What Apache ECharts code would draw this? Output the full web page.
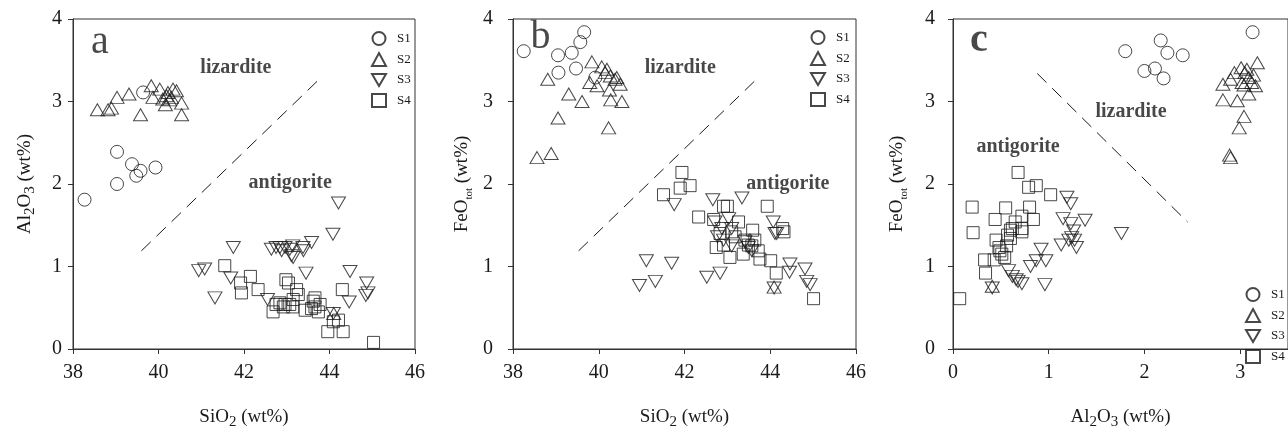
<!DOCTYPE html>
<html>
<head>
<meta charset="utf-8">
<title>serpentine</title>
<script src="https://cdn.jsdelivr.net/npm/echarts@6/dist/echarts.min.js"></script>
<style>
  html, body { margin: 0; padding: 0; background: #fff; }
  #chart { width: 1288px; height: 435px; }
</style>
</head>
<body>
<div id="chart"></div>
<script>
// panel a : SiO2 vs Al2O3
const aS1 = [[38.27,1.81],[39.03,2.0],[39.03,2.39],[39.38,2.24],[39.48,2.1],[39.58,2.16],[39.93,2.2],[39.64,3.11]];
const aS2 = [[38.57,2.9],[38.82,2.9],[38.9,2.92],[39.03,3.05],[39.31,3.09],[39.58,2.84],[39.83,3.19],[39.87,3.05],[40.03,3.15],[40.1,3.03],[40.19,3.07],[40.22,3.11],[40.16,2.96],[40.3,3.05],[40.34,3.15],[40.42,3.13],[40.54,2.98],[40.54,2.84],[40.26,3.02],[44.1,0.43]];
const aS3 = [[40.94,0.95],[41.08,0.97],[41.32,0.62],[41.75,1.23],[41.69,0.86],[42.55,0.6],[42.64,1.21],[42.75,1.23],[42.84,1.23],[42.88,1.19],[42.96,1.23],[43.07,1.21],[43.14,1.25],[43.11,1.13],[43.15,1.11],[43.38,1.23],[43.39,1.19],[43.58,1.29],[43.45,0.92],[44.08,1.39],[44.21,1.77],[44.48,0.94],[44.46,0.57],[44.87,0.8],[44.9,0.68],[44.85,0.65],[44.09,0.43]];
const aS4 = [[41.55,1.01],[41.92,0.8],[41.94,0.68],[42.15,0.88],[42.33,0.72],[42.68,0.45],[42.75,0.54],[42.84,0.56],[42.92,0.51],[42.96,0.54],[42.98,0.84],[43.04,0.8],[43.07,0.54],[43.14,0.51],[43.15,0.6],[43.23,0.72],[43.27,0.66],[43.43,0.47],[43.58,0.49],[43.62,0.58],[43.66,0.51],[43.66,0.62],[43.74,0.45],[43.78,0.54],[43.96,0.21],[44.09,0.33],[44.21,0.35],[44.32,0.21],[44.3,0.72],[45.03,0.08]];

// panel b : SiO2 vs FeOtot
const bS1 = [[38.25,3.61],[39.05,3.56],[39.06,3.35],[39.37,3.59],[39.47,3.4],[39.57,3.72],[39.66,3.84],[39.92,3.29]];
const bS2 = [[38.56,2.32],[38.89,2.37],[38.81,3.27],[39.05,2.8],[39.3,3.09],[39.61,3.0],[39.84,3.48],[39.79,3.23],[39.96,3.19],[40.07,3.42],[40.15,3.35],[40.19,3.39],[40.27,3.31],[40.38,3.27],[40.42,3.29],[40.5,3.21],[40.25,3.14],[40.28,3.02],[40.54,3.0],[40.23,2.68],[44.09,0.75]];
const bS3 = [[40.95,0.77],[41.11,1.07],[41.32,0.82],[41.7,1.04],[41.76,1.75],[42.52,0.87],[42.66,1.81],[42.71,1.54],[42.83,0.92],[42.77,1.36],[42.87,1.46],[42.91,1.32],[43.03,1.58],[43.1,1.46],[43.1,1.25],[43.34,1.83],[43.41,1.3],[43.49,1.23],[43.57,1.19],[44.07,1.54],[44.11,1.4],[44.15,1.4],[44.46,1.03],[44.45,0.93],[44.81,0.97],[44.85,0.82],[44.93,0.78],[44.09,0.74]];
const bS4 = [[41.51,1.87],[41.9,1.95],[41.94,2.14],[42.13,1.98],[42.33,1.6],[42.68,1.57],[42.74,1.23],[42.83,1.4],[42.91,1.73],[43.0,1.73],[42.91,1.26],[43.06,1.11],[43.1,1.42],[43.18,1.36],[43.26,1.54],[43.37,1.15],[43.41,1.32],[43.49,1.26],[43.57,1.25],[43.59,1.44],[43.64,1.32],[43.72,1.19],[43.76,1.09],[43.93,1.73],[44.01,1.07],[44.14,0.92],[44.29,1.46],[44.32,1.42],[45.01,0.61]];

// panel c : Al2O3 vs FeOtot
const cS1 = [[1.8,3.61],[2.0,3.37],[2.11,3.4],[2.2,3.28],[2.17,3.74],[2.24,3.59],[2.4,3.56],[3.13,3.84]];
const cS2 = [[2.89,2.35],[2.9,2.32],[2.82,3.21],[2.82,3.02],[2.9,3.27],[2.94,3.35],[2.97,3.01],[2.99,2.68],[3.04,2.82],[3.01,3.41],[3.05,3.35],[3.07,3.39],[3.04,3.2],[3.09,3.29],[3.12,3.23],[3.14,3.32],[3.09,3.09],[3.18,3.47],[3.16,3.19],[3.02,3.23],[0.41,0.76]];
const cS3 = [[0.41,0.74],[0.58,0.95],[0.62,0.88],[0.66,0.84],[0.68,0.82],[0.72,0.79],[0.81,1.0],[0.87,1.07],[0.92,1.21],[0.97,1.07],[0.96,0.78],[1.13,1.26],[1.15,1.58],[1.19,1.84],[1.23,1.76],[1.23,1.52],[1.24,1.35],[1.26,1.43],[1.29,1.23],[1.38,1.56],[1.76,1.4],[1.27,1.32],[1.21,1.32]];
const cS4 = [[0.07,0.61],[0.2,1.72],[0.21,1.41],[0.33,1.08],[0.34,0.92],[0.43,1.08],[0.44,1.57],[0.45,1.32],[0.48,1.23],[0.51,1.15],[0.54,1.11],[0.55,1.71],[0.56,1.25],[0.57,1.38],[0.6,1.44],[0.62,1.46],[0.65,1.54],[0.68,2.14],[0.72,1.61],[0.72,1.46],[0.72,1.42],[0.79,1.96],[0.8,1.72],[0.84,1.57],[0.87,1.98],[1.02,1.87],[0.6,1.34],[0.49,1.19]];

// dashed lizardite / antigorite boundaries
const aBoundary = [[39.6,1.19],[43.8,3.29]];
const bBoundary = [[39.53,1.19],[43.72,3.29]];
const cBoundary = [[0.88,3.34],[2.45,1.54]];

const sampleNames = ['S1','S2','S3','S4'];
const siTicks = [38, 40, 42, 44, 46];
const alTicks = [0, 1, 2, 3];
const feTicks = [0, 1, 2, 3, 4];

const serif = 'Liberation Serif, Times New Roman, serif';
const ink = '#1a1a1a';

// symbols
const symbols = {
  S1: { symbol: 'circle', symbolSize: 13 },
  S2: { symbol: 'triangle', symbolSize: [14, 12] },
  S3: { symbol: 'path://M0,0L20,0L10,17.3Z', symbolSize: [14, 12] },
  S4: { symbol: 'rect', symbolSize: 12 }
};

function scatter(name, data, idx) {
  return {
    name: name,
    type: 'scatter',
    xAxisIndex: idx,
    yAxisIndex: idx,
    data: data,
    symbol: symbols[name].symbol,
    symbolSize: symbols[name].symbolSize,
    itemStyle: { color: 'rgba(0,0,0,0)', borderColor: ink, borderWidth: 1 },
    emphasis: { disabled: true },
    z: 3
  };
}

function boundary(data, idx) {
  return {
    type: 'line',
    xAxisIndex: idx,
    yAxisIndex: idx,
    data: data,
    symbol: 'none',
    silent: true,
    lineStyle: { color: ink, width: 1, type: [13, 8] },
    z: 2
  };
}

// text put at data coordinates
function note(items, idx, size, weight) {
  return {
    type: 'scatter',
    xAxisIndex: idx,
    yAxisIndex: idx,
    symbolSize: 0,
    silent: true,
    data: items.map(t => ({ name: t[0], value: [t[1], t[2]] })),
    label: {
      show: true,
      position: 'inside',
      formatter: '{b}',
      fontFamily: serif,
      fontSize: size,
      fontWeight: weight,
      color: ink
    },
    z: 4
  };
}

const rich = {
  n: { fontFamily: serif, fontSize: 19, color: ink, lineHeight: 26 },
  s: { fontFamily: serif, fontSize: 15, color: ink, lineHeight: 26, verticalAlign: 'bottom' },
  t: { fontFamily: serif, fontSize: 11, color: ink, lineHeight: 26, verticalAlign: 'bottom' }
};

function axis(gridIndex, min, max, interval, name, nameGap, labelMargin, isY) {
  return {
    type: 'value',
    gridIndex: gridIndex,
    min: min,
    max: max,
    interval: interval,
    name: name,
    nameLocation: 'middle',
    nameGap: nameGap,
    nameTextStyle: { rich: rich },
    splitLine: { show: false },
    axisLine: { show: true, onZero: false, lineStyle: { color: '#333', width: 1 } },
    axisTick: { show: true, length: 5, lineStyle: { color: '#333' } },
    axisLabel: {
      fontFamily: serif,
      fontSize: 20,
      color: ink,
      margin: labelMargin,
      showMaxLabel: isY ? true : max % interval === 0
    }
  };
}

const legendBase = {
  data: sampleNames,
  orient: 'vertical',
  itemWidth: 14,
  itemHeight: 13,
  itemGap: 6,
  selectedMode: false,
  textStyle: { fontFamily: serif, fontSize: 13, color: ink, padding: [0, 0, 0, 6] }
};

const chart = echarts.init(document.getElementById('chart'));

const option = {
  backgroundColor: '#fff',
  animation: false,
  grid: [
    { left: 73, top: 19, width: 342, height: 343, show: true, borderColor: '#333', borderWidth: 1 },
    { left: 513, top: 19, width: 343, height: 343, show: true, borderColor: '#333', borderWidth: 1 },
    { left: 953, top: 19, width: 342, height: 343, show: true, borderColor: '#333', borderWidth: 1 }
  ],
  xAxis: [
    axis(0, siTicks[0], siTicks[siTicks.length - 1], 2, '{n|SiO}{s|2}{n| (wt%)}', 55, 14, false),
    axis(1, siTicks[0], siTicks[siTicks.length - 1], 2, '{n|SiO}{s|2}{n| (wt%)}', 55, 14, false),
    axis(2, alTicks[0], 3.5, 1, '{n|Al}{s|2}{n|O}{s|3}{n| (wt%)}', 55, 14, false)
  ],
  yAxis: [
    axis(0, feTicks[0], feTicks[feTicks.length - 1], 1, '{n|Al}{s|2}{n|O}{s|3}{n| (wt%)}', 35, 11, true),
    axis(1, feTicks[0], feTicks[feTicks.length - 1], 1, '{n|FeO}{t|tot}{n| (wt%)}', 38, 20, true),
    axis(2, feTicks[0], feTicks[feTicks.length - 1], 1, '{n|FeO}{t|tot}{n| (wt%)}', 43, 18, true)
  ],
  legend: [
    Object.assign({}, legendBase, { left: 366, top: 26 }),
    Object.assign({}, legendBase, { left: 805, top: 25 }),
    Object.assign({}, legendBase, { left: 1240, top: 282 })
  ],
  series: [
    scatter('S1', aS1, 0), scatter('S2', aS2, 0), scatter('S3', aS3, 0), scatter('S4', aS4, 0),
    scatter('S1', bS1, 1), scatter('S2', bS2, 1), scatter('S3', bS3, 1), scatter('S4', bS4, 1),
    scatter('S1', cS1, 2), scatter('S2', cS2, 2), scatter('S3', cS3, 2), scatter('S4', cS4, 2),
    boundary(aBoundary, 0), boundary(bBoundary, 1), boundary(cBoundary, 2),
    note([['a', 38.63, 3.72]], 0, 40, 'normal'),
    note([['b', 38.64, 3.77]], 1, 40, 'normal'),
    note([['c', 0.27, 3.74]], 2, 40, 'bold'),
    note([['lizardite', 41.81, 3.41], ['antigorite', 43.08, 2.02]], 0, 20, 'bold'),
    note([['lizardite', 41.9, 3.41], ['antigorite', 44.41, 2.0]], 1, 20, 'bold'),
    note([['lizardite', 1.86, 2.88], ['antigorite', 0.68, 2.45]], 2, 20, 'bold')
  ]
};

chart.setOption(option);
</script>
</body>
</html>
